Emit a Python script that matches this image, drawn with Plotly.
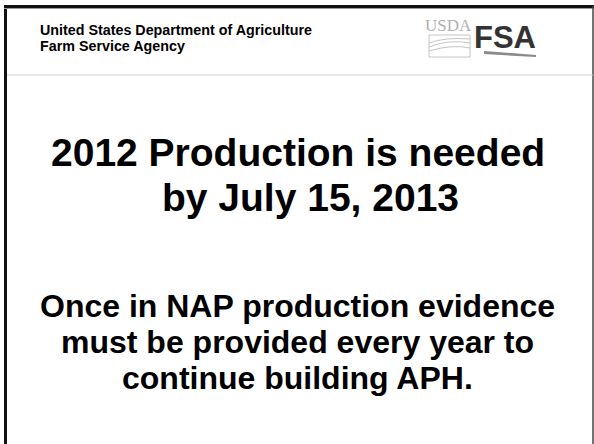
import plotly.graph_objects as go

# slide content
HEADER_LINES = ["United States Department of Agriculture", "Farm Service Agency"]
TITLE_LINES = ["2012 Production is needed", "by July 15, 2013"]
BODY_LINES = [
    "Once in NAP production evidence",
    "must be provided every year to",
    "continue building APH.",
]
LOGO_LEFT = "USDA"
LOGO_RIGHT = "FSA"

W, H = 594, 444
FONT = "Liberation Sans, Arial, Helvetica, sans-serif"
INK = "#000000"

fig = go.Figure()

# frame: heavy rule on top/left, hairline right, light separator under header
fig.add_shape(type="line", x0=5.5, x1=5.5, y0=5, y1=H, line=dict(color="#111", width=3))
fig.add_shape(type="line", x0=4, x1=W, y0=6.5, y1=6.5, line=dict(color="#111", width=3))
fig.add_shape(type="line", x0=4, x1=W, y0=8.5, y1=8.5, line=dict(color="#999", width=1))
fig.add_shape(type="line", x0=593, x1=593, y0=6, y1=H, line=dict(color="#444", width=1.5))
fig.add_shape(type="line", x0=7, x1=593, y0=75, y1=75, line=dict(color="#cfcfcf", width=1))

# header text
for i, txt in enumerate(HEADER_LINES):
    fig.add_annotation(x=38, y=30 + 16 * i, text=txt, showarrow=False,
                       xanchor="left", yanchor="middle",
                       font=dict(family=FONT, size=14.3, color=INK, weight="bold"))

# logo: outlined USDA mark with landscape lines, bold FSA with swoosh
fig.add_annotation(x=448, y=25, text=LOGO_LEFT, showarrow=False,
                   xanchor="center", yanchor="middle",
                   font=dict(family="Liberation Serif, serif", size=17, color="#b0b0b0"))
fig.add_shape(type="rect", x0=429, x1=470, y0=35, y1=57,
              line=dict(color="#c4c4c4", width=1), fillcolor="rgba(0,0,0,0)")
for p in ["M 429 43 Q 445 37 470 39", "M 429 47 Q 448 39 470 43",
          "M 429 51 Q 452 44 470 48"]:
    fig.add_shape(type="path", path=p, line=dict(color="#c4c4c4", width=1))
fig.add_annotation(x=505, y=37, text=LOGO_RIGHT, showarrow=False,
                   xanchor="center", yanchor="middle",
                   font=dict(family=FONT, size=31, color="#333333", weight="bold"))
fig.add_shape(type="path", path="M 484 51 L 536 55 L 536 57 L 484 54 Z",
              line=dict(width=0), fillcolor="#8a8a8a")

# title
title_x = [298, 310.5]
for i, txt in enumerate(TITLE_LINES):
    fig.add_annotation(x=title_x[i], y=152 + 45 * i, text=txt, showarrow=False,
                       xanchor="center", yanchor="middle",
                       font=dict(family=FONT, size=39, color=INK, weight="bold"))

# body
for i, txt in enumerate(BODY_LINES):
    fig.add_annotation(x=297, y=306 + 36 * i, text=txt, showarrow=False,
                       xanchor="center", yanchor="middle",
                       font=dict(family=FONT, size=32, color=INK, weight="bold"))

fig.update_layout(
    width=W, height=H,
    margin=dict(l=0, r=0, t=0, b=0),
    paper_bgcolor="#ffffff", plot_bgcolor="#ffffff",
    showlegend=False,
)
fig.update_xaxes(range=[0, W], visible=False, fixedrange=True)
fig.update_yaxes(range=[H, 0], visible=False, fixedrange=True)

fig.write_html("out.html", config={"displayModeBar": False},
               post_script="document.body.style.margin='0';")
